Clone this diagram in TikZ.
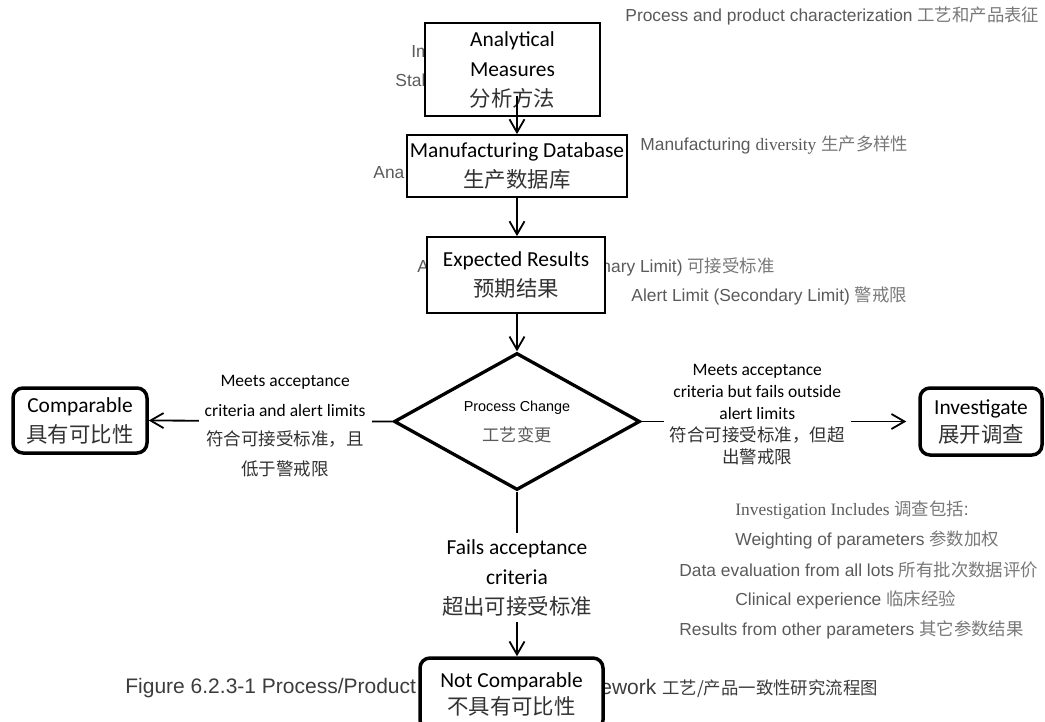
\documentclass[tikz,border=0pt]{standalone}
\usepackage{fontspec}
\setmainfont{Liberation Sans}
\newfontfamily\boxfont{Carlito}
\newfontfamily\timesfont{Liberation Serif}
\newfontfamily\cjk{Noto Sans CJK SC}
\usetikzlibrary{arrows.meta,shapes.geometric}
\definecolor{greytext}{RGB}{90, 90, 90}
\definecolor{greycjk}{RGB}{120, 120, 120}
\definecolor{captext}{RGB}{60, 60, 60}
\definecolor{boxcjk}{RGB}{50, 50, 50}
\newcommand{\zhtext}[1]{{\cjk\color{boxcjk}#1}}
\newcommand{\zhgrey}[1]{{\cjk\color{greycjk}#1}}

\begin{document}
\begin{tikzpicture}
  [
    x=0.5pt, y=-0.5pt,
    conn/.style={line width=0.9pt, -{Straight Barb[length=6.5pt, width=7.5pt]}},
    plain/.style={line width=0.9pt},
    stepbox/.style={draw, line width=0.9pt, fill=white, inner sep=0pt, align=center,
      font=\boxfont\fontsize{10.7}{15}\selectfont},
    endbox/.style={stepbox, line width=1.75pt, rounded corners=5pt},
    decision/.style={draw, diamond, line width=1.65pt, fill=white, inner sep=0pt, aspect=1.8,
      minimum width=123pt, minimum height=68.5pt, align=center,
      font=\fontsize{7.2}{15}\selectfont},
    edgelbl/.style={fill=white, inner sep=3pt, align=center},
    gtext/.style={anchor=west, inner sep=0pt, text=greytext, font=\fontsize{8.7}{11}\selectfont}
  ]
  \useasboundingbox (0, 0) rectangle (1045, 722);

  % grey notes, partly hidden behind the boxes
  \node[gtext] (charac) at (625, 16) {Process and product characterization \zhgrey{工艺和产品表征}};
  \node[gtext] (imfrag) at (411, 52) {Im};
  \node[gtext] (stfrag) at (395, 80) {Stal};
  \node[gtext] (divers) at (640, 145) {Manufacturing {\timesfont diversity} \zhgrey{生产多样性}};
  \node[gtext] (anfrag) at (373, 173) {Ana};
  \node[gtext] (afrag) at (417, 267) {A};
  \node[gtext] (accfrag) at (601, 267) {nary Limit) \zhgrey{可接受标准}};
  \node[gtext] (alert) at (631, 296) {Alert Limit (Secondary Limit) \zhgrey{警戒限}};

  \node[gtext] (invhead) at (735, 510) {{\timesfont Investigation Includes} \zhgrey{调查包括}:};
  \node[gtext] (invone) at (735, 540) {Weighting of parameters \zhgrey{参数加权}};
  \node[gtext] (invtwo) at (679, 570) {Data evaluation from all lots \zhgrey{所有批次数据评价}};
  \node[gtext] (invthree) at (735, 600) {Clinical experience \zhgrey{临床经验}};
  \node[gtext] (invfour) at (679, 630) {Results from other parameters \zhgrey{其它参数结果}};

  \node[gtext, text=captext, font=\fontsize{10.5}{12}\selectfont] (capleft) at (125, 688)
    {Figure 6.2.3-1 Process/Product C};
  \node[gtext, text=captext, font=\fontsize{10.5}{12}\selectfont] (capright) at (600, 688)
    {ework {\cjk\fontsize{8.7}{12}\selectfont 工艺/产品一致性研究流程图}};

  % flow chart
  \node[stepbox, minimum width=87.5pt, minimum height=46.5pt] (ana) at (512.5, 69.5)
    {Analytical\\Measures\\\zhtext{分析方法}};
  \node[stepbox, minimum width=110pt, minimum height=31pt] (mdb) at (517, 166)
    {Manufacturing Database\\\zhtext{生产数据库}};
  \node[stepbox, minimum width=89pt, minimum height=38pt] (expres) at (516, 275)
    {Expected Results\\\zhtext{预期结果}};
  \node[decision] (change) at (517, 421.5)
    {Process Change\\{\cjk\fontsize{8.6}{15}\selectfont\color{greytext}工艺变更}};
  \node[endbox, minimum width=67pt, minimum height=32.5pt] (comp) at (80, 420.5)
    {Comparable\\\zhtext{具有可比性}};
  \node[endbox, minimum width=61pt, minimum height=33.5pt, font=\boxfont\fontsize{10.7}{14}\selectfont] (inv) at (981, 421.5)
    {Investigate\\\zhtext{展开调查}};
  \node[inner sep=3pt, align=center, font=\boxfont\fontsize{10.7}{15}\selectfont] (fails) at (517, 577.5)
    {Fails acceptance\\criteria\\\zhtext{超出可接受标准}};
  \node[endbox, minimum width=91.5pt, minimum height=36pt, font=\boxfont\fontsize{10.7}{13.5}\selectfont] (notcomp) at (511.5, 694)
    {Not Comparable\\\zhtext{不具有可比性}};

  \draw[conn] ([yshift=10.5pt]ana.south -| mdb.north) -- (mdb.north);
  \draw[conn] (mdb.south) -- (mdb.south |- expres.north);
  \draw[conn] (expres.south -| change.north) -- (change.north);
  \draw[conn] (change.west) -- node[edgelbl, pos=0.44, yshift=-2.5pt,
      font=\boxfont\fontsize{8.75}{14.7}\selectfont] (lblcomp)
    {Meets acceptance\\criteria and alert limits\\\zhtext{符合可接受标准，且}\\\zhtext{低于警戒限}} (comp.east);
  \draw[conn, shorten >=6pt] (change.east) -- node[edgelbl, pos=0.418, yshift=3.25pt,
      font=\boxfont\fontsize{8.75}{11}\selectfont] (lblinv)
    {Meets acceptance\\criteria but fails outside\\alert limits\\\zhtext{符合可接受标准，但超}\\\zhtext{出警戒限}} (inv.west);
  \draw[plain] (change.south) -- (fails.north);
  \draw[conn] (fails.south) -- (fails.south |- notcomp.north);
\end{tikzpicture}
\end{document}
